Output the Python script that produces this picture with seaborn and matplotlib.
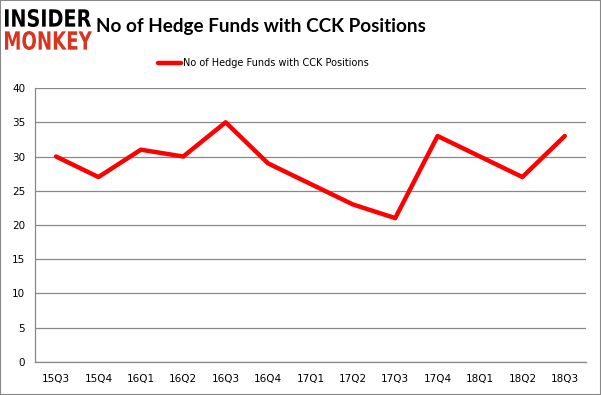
import pandas as pd
import seaborn as sns
import matplotlib.pyplot as plt
from matplotlib.patches import Rectangle, PathPatch
from matplotlib.textpath import TextPath
from matplotlib.font_manager import FontProperties
from matplotlib.transforms import Affine2D, IdentityTransform

# Dados do gráfico
trimestres = ["15Q3", "15Q4", "16Q1", "16Q2", "16Q3", "16Q4", "17Q1",
              "17Q2", "17Q3", "17Q4", "18Q1", "18Q2", "18Q3"]
num_fundos = [30, 27, 31, 30, 35, 29, 26, 23, 21, 33, 30, 27, 33]
titulo = "No of Hedge Funds with CCK Positions"
y_ticks = [0, 5, 10, 15, 20, 25, 30, 35, 40]

LARGURA, ALTURA = 601, 395

df = pd.DataFrame({"trimestre": trimestres, "fundos": num_fundos})

sns.set_style("white")
plt.rcParams["font.family"] = ["DejaVu Sans"]
plt.rcParams["text.color"] = "black"
plt.rcParams["xtick.color"] = "black"
plt.rcParams["ytick.color"] = "black"


def texto_na_caixa(fig, texto, x0, y0, x1, y1, cor):
    """Desenha o texto esticado para caber na caixa (pixels, origem no topo)."""
    fp = FontProperties(family="DejaVu Sans", weight="bold")
    caminho = TextPath((0, 0), texto, size=10, prop=fp)
    ext = caminho.get_extents()
    sx = (x1 - x0) / ext.width
    sy = (y1 - y0) / ext.height
    trans = (Affine2D().translate(-ext.x0, -ext.y0).scale(sx, sy)
             .translate(x0, ALTURA - y1))
    patch = PathPatch(trans.transform_path(caminho), facecolor=cor,
                      edgecolor="none", transform=IdentityTransform())
    fig.patches.append(patch)


fig = plt.figure(figsize=(LARGURA / 100, ALTURA / 100), dpi=100)
ax = fig.add_axes([0.058, 0.084, 0.917, 0.693])

sns.lineplot(data=df, x="trimestre", y="fundos", color="#ff0000",
             linewidth=3.2, sort=False, ax=ax, label=titulo)

ax.set_xlim(-0.5, len(trimestres) - 0.5)
ax.set_ylim(0, 40)
ax.set_yticks(y_ticks)
ax.set_xticks(range(len(trimestres)))
ax.set_xticklabels(trimestres)
ax.set_xlabel("")
ax.set_ylabel("")
ax.grid(axis="y", color="#888888", linewidth=0.9)
ax.set_axisbelow(True)
for lado in ["top", "right"]:
    ax.spines[lado].set_visible(False)
for lado in ["left", "bottom"]:
    ax.spines[lado].set_color("#888888")
    ax.spines[lado].set_linewidth(0.9)

# marcas do eixo x entre as categorias
ax.set_xticks([i - 0.5 for i in range(len(trimestres) + 1)], minor=True)
ax.tick_params(axis="x", which="major", length=0, pad=9, labelsize=7.5)
ax.tick_params(axis="x", which="minor", length=4, color="#888888", width=0.9)
ax.tick_params(axis="y", length=4, color="#888888", width=0.9, labelsize=7.5, pad=3)

ax.legend(loc="lower center", bbox_to_anchor=(0.414, 1.04), frameon=False,
          fontsize=7, handlelength=2.4, handletextpad=0.2)

fig.text(0.435, 0.932, titulo, ha="center", va="center", fontsize=13.6,
         fontweight="bold", family="Lato")

# logotipo
texto_na_caixa(fig, "INSIDER", 5, 9, 91, 27, "black")
texto_na_caixa(fig, "MONKEY", 5, 31, 92, 50, "#d9341f")

fig.patches.append(Rectangle((0, 0), 1, 1, transform=fig.transFigure,
                             fill=False, edgecolor="#888888", linewidth=1.5))

fig.savefig("out.png", dpi=100)
